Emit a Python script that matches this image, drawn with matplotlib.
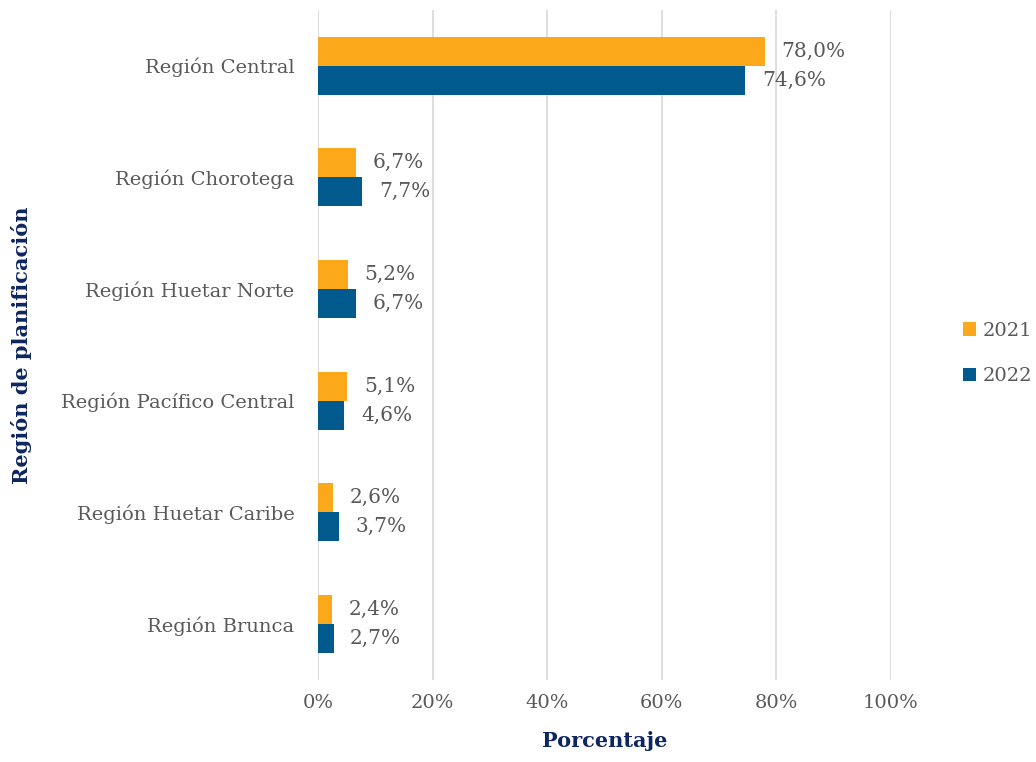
import numpy as np
from matplotlib import pyplot as plt
from matplotlib.ticker import FuncFormatter

regions = ['Región Central', 'Región Chorotega', 'Región Huetar Norte',
           'Región Pacífico Central', 'Región Huetar Caribe', 'Región Brunca']
values_2021 = [78.0, 6.7, 5.2, 5.1, 2.6, 2.4]
values_2022 = [74.6, 7.7, 6.7, 4.6, 3.7, 2.7]

orange = '#FBA91A'
blue = '#005A8E'
text_grey = '#595959'
navy = '#0D2560'

plt.rcParams['font.family'] = ['DejaVu Serif']

fig = plt.figure(figsize=(10.36, 7.62), dpi=100)
ax = fig.add_axes([0.307, 0.108, 0.553, 0.879])

y = np.arange(len(regions))
h = 0.26
bars1 = ax.barh(y - h / 2, values_2021, height=h, color=orange, label='2021', zorder=3)
bars2 = ax.barh(y + h / 2, values_2022, height=h, color=blue, label='2022', zorder=3)

for bars, vals in [(bars1, values_2021), (bars2, values_2022)]:
    for b, v in zip(bars, vals):
        ax.annotate('{:.1f}%'.format(v).replace('.', ','),
                    (b.get_width(), b.get_y() + b.get_height() / 2),
                    xytext=(12, 0), textcoords='offset points',
                    va='center', ha='left', fontsize=14.5, color=text_grey)

ax.set_xlim(0, 100)
ax.set_ylim(len(regions) - 0.5, -0.5)
ax.set_xticks(np.arange(0, 101, 20))
ax.xaxis.set_major_formatter(FuncFormatter(lambda v, p: '{:.0f}%'.format(v)))
ax.set_yticks(y)
ax.set_yticklabels(regions)
ax.tick_params(axis='both', length=0, labelsize=14, labelcolor=text_grey)
ax.tick_params(axis='y', pad=17)
ax.tick_params(axis='x', pad=10)
ax.grid(axis='x', color='#D9D9D9', linewidth=1.2, zorder=0)
for s in ax.spines.values():
    s.set_visible(False)

ax.set_xlabel('Porcentaje', fontsize=15, fontweight='bold', color=navy, labelpad=14)
ax.set_ylabel('Región de planificación', fontsize=15, fontweight='bold', color=navy)
ax.yaxis.set_label_coords(-0.50, 0.5)

ax.legend(loc='center left', bbox_to_anchor=(1.095, 0.487), frameon=False,
          fontsize=14, labelcolor=text_grey, handlelength=0.7, handleheight=0.7,
          handletextpad=0.3, labelspacing=1.4)

fig.savefig('out.png', dpi=100)
